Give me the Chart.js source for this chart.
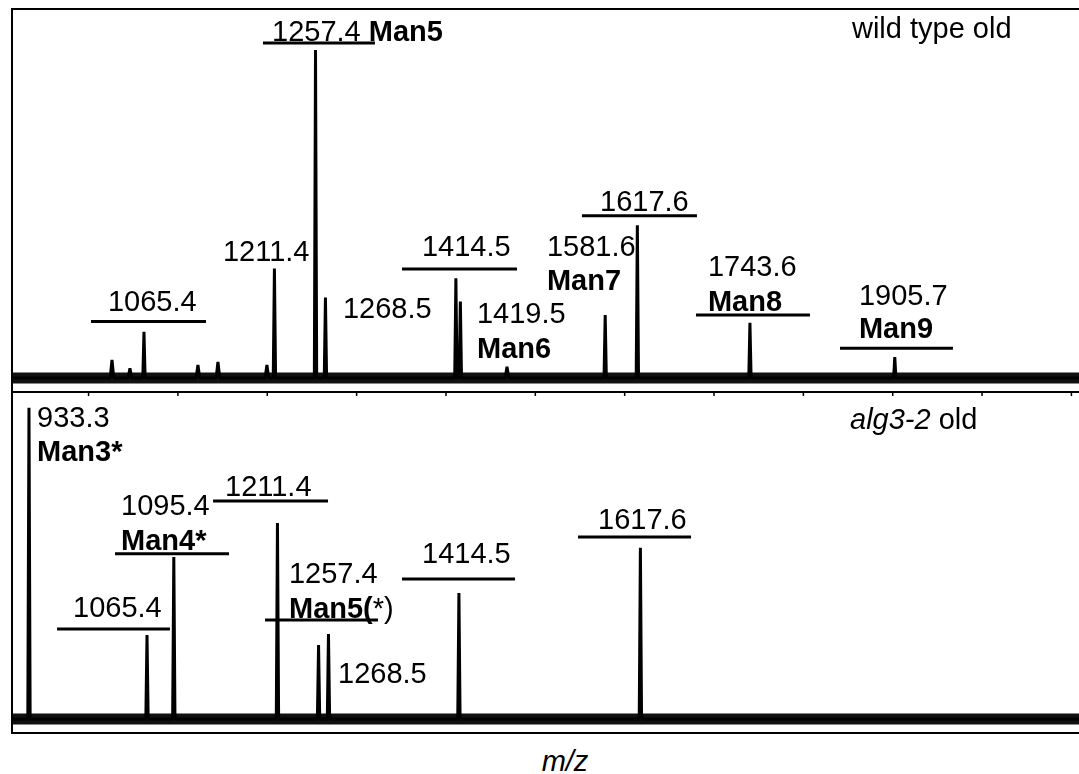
<!DOCTYPE html>
<html>
<head>
<meta charset="utf-8">
<title>MALDI spectra - wild type old / alg3-2 old</title>
<script src="https://cdn.jsdelivr.net/npm/chart.js@4.4.1/dist/chart.umd.min.js"></script>
<style>
  html, body { margin: 0; padding: 0; background: #fff; width: 1079px; height: 774px; overflow: hidden; }
  canvas { position: absolute; left: 0; }
  #wt { top: 0; }
  #alg { top: 380px; }
  #mz {
    position: absolute; left: 565px; top: 745px; transform: translateX(-50%);
    font: italic 29px "Liberation Sans", Arial, sans-serif; line-height: 32px; color: #000;
  }
</style>
</head>
<body>
<canvas id="wt" width="1100" height="400"></canvas>
<canvas id="alg" width="1100" height="360"></canvas>
<div id="mz">m/z</div>
<script>
  // wild type old: peak m/z and relative intensity (Man5 = 100)
  const wtMz = [1065.4, 1211.4, 1257.4, 1268.5, 1414.5, 1419.5, 1581.6, 1617.6, 1743.6, 1905.7];
  const wtInt = [14.1, 33.4, 100, 24.5, 30.4, 23.3, 19.2, 46.6, 16.8, 6.4];
  // small bumps sticking out of the baseline noise
  const wtBumpMz = [1029.6, 1049.7, 1125.8, 1148.2, 1203.0, 1471.7];
  const wtBumpInt = [5.5, 3.0, 4.0, 4.9, 4.0, 3.4];

  // alg3-2 old: peak m/z and relative intensity (Man3* = 100)
  const algMz = [933.3, 1065.4, 1095.4, 1211.4, 1257.4, 1268.5, 1414.5, 1617.6];
  const algInt = [100, 27.0, 52.1, 63.0, 23.8, 27.3, 40.5, 55.0];
  const algBumpMz = [];
  const algBumpInt = [];

  // m/z tick marks
  const tickMz = [1000, 1100, 1200, 1300, 1400, 1500, 1600, 1700, 1800, 1900, 2000, 2100];

  const FONT = '29px "Liberation Sans", Arial, sans-serif';

  // labels: anchor (left, middle) in data units, text parts with style
  const wtLabels = [
    { x: 1208.7, y: 105.2, parts: [['1257.4 ', ''], ['Man5', 'bold']] },
    { x: 1025.1, y: 22.9, parts: [['1065.4', '']] },
    { x: 1153.8, y: 38.1, parts: [['1211.4', '']] },
    { x: 1288.1, y: 20.7, parts: [['1268.5', '']] },
    { x: 1376.5, y: 39.6, parts: [['1414.5', '']] },
    { x: 1438.1, y: 19.2, parts: [['1419.5', '']] },
    { x: 1438.1, y: 8.5, parts: [['Man6', 'bold']] },
    { x: 1516.4, y: 39.6, parts: [['1581.6', '']] },
    { x: 1516.4, y: 29.3, parts: [['Man7', 'bold']] },
    { x: 1575.8, y: 53.4, parts: [['1617.6', '']] },
    { x: 1696.6, y: 33.5, parts: [['1743.6', '']] },
    { x: 1696.6, y: 22.9, parts: [['Man8', 'bold']] },
    { x: 1865.6, y: 24.7, parts: [['1905.7', '']] },
    { x: 1865.6, y: 14.6, parts: [['Man9', 'bold']] },
    { x: 1857.8, y: 106.1, parts: [['wild type old', '']] }
  ];
  // underline bars: [from m/z, to m/z, height]
  const wtBars = [
    [1198.6, 1323.9, 102.1],
    [1006.1, 1134.8, 17.2],
    [1354.2, 1482.9, 33.2],
    [1555.6, 1684.3, 49.5],
    [1683.2, 1810.8, 19.2],
    [1844.4, 1970.8, 9.1]
  ];

  const algLabels = [
    { x: 942.3, y: 96.5, parts: [['933.3', '']] },
    { x: 942.3, y: 85.5, parts: [['Man3*', 'bold']] },
    { x: 1036.3, y: 68.2, parts: [['1095.4', '']] },
    { x: 1036.3, y: 56.9, parts: [['Man4*', 'bold']] },
    { x: 1152.7, y: 74.3, parts: [['1211.4', '']] },
    { x: 982.6, y: 35.4, parts: [['1065.4', '']] },
    { x: 1224.3, y: 46.3, parts: [['1257.4', '']] },
    { x: 1224.3, y: 35.0, parts: [['Man5(', 'bold'], ['*)', '']] },
    { x: 1279.2, y: 14.1, parts: [['1268.5', '']] },
    { x: 1373.2, y: 52.7, parts: [['1414.5', '']] },
    { x: 1570.2, y: 63.7, parts: [['1617.6', '']] },
    { x: 1852.2, y: 95.8, parts: [['alg3-2', 'italic'], [' old', '']] }
  ];
  const algBars = [
    [1029.6, 1157.2, 53.1],
    [1139.3, 1268.0, 70.1],
    [964.7, 1091.1, 28.9],
    [1197.5, 1323.9, 31.8],
    [1350.8, 1477.3, 45.0],
    [1547.8, 1674.3, 58.5]
  ];

  // turn a peak list into a stick-like trace along the baseline
  function trace(mz, inten, bumpMz, bumpInt, lo, hi) {
    var pk = mz.map(function (m, i) { return [m, inten[i], 1.3]; })
      .concat(bumpMz.map(function (m, i) { return [m, bumpInt[i], 2.0]; }));
    pk.sort(function (a, b) { return a[0] - b[0]; });
    var pts = [{ x: lo, y: 0 }];
    pk.forEach(function (p) {
      pts.push({ x: p[0] - p[2], y: 0 }, { x: p[0], y: p[1] }, { x: p[0] + p[2], y: 0 });
    });
    pts.push({ x: hi, y: 0 });
    return pts;
  }

  // frame, ticks, underline bars and text labels
  const decor = {
    id: 'decor',
    afterDraw: function (chart, args, opts) {
      var ctx = chart.ctx, xs = chart.scales.x, ys = chart.scales.y, a = chart.chartArea;
      ctx.save();
      ctx.strokeStyle = '#000';
      ctx.fillStyle = '#000';
      ctx.lineWidth = 2;
      ctx.strokeRect(a.left, a.top, a.right - a.left, a.bottom - a.top);
      ctx.lineWidth = 1.5;
      (opts.ticks || []).forEach(function (t) {
        var px = xs.getPixelForValue(t);
        ctx.beginPath();
        ctx.moveTo(px, a.top);
        ctx.lineTo(px, a.top + 4);
        ctx.stroke();
      });
      ctx.lineWidth = 3;
      opts.bars.forEach(function (b) {
        var py = ys.getPixelForValue(b[2]);
        ctx.beginPath();
        ctx.moveTo(xs.getPixelForValue(b[0]), py);
        ctx.lineTo(xs.getPixelForValue(b[1]), py);
        ctx.stroke();
      });
      ctx.textBaseline = 'middle';
      ctx.textAlign = 'left';
      opts.labels.forEach(function (l) {
        var px = xs.getPixelForValue(l.x), py = ys.getPixelForValue(l.y);
        l.parts.forEach(function (p) {
          ctx.font = (p[1] ? p[1] + ' ' : '') + FONT;
          ctx.fillText(p[0], px, py);
          px += ctx.measureText(p[0]).width;
        });
      });
      ctx.restore();
    }
  };

  function makeChart(id, pts, xMin, xMax, yMin, yMax, pad, labels, bars, ticks) {
    return new Chart(document.getElementById(id), {
      type: 'line',
      data: {
        datasets: [{
          data: pts,
          borderColor: '#000',
          borderWidth: 3,
          borderJoinStyle: 'bevel',
          pointRadius: 0,
          tension: 0
        }, {
          // thick noisy baseline band
          data: [{ x: xMin, y: 0 }, { x: xMax, y: 0 }],
          borderColor: '#111',
          borderWidth: 11,
          pointRadius: 0
        }]
      },
      options: {
        responsive: false,
        animation: false,
        devicePixelRatio: 1,
        layout: { padding: pad },
        scales: {
          x: { type: 'linear', min: xMin, max: xMax, display: false },
          y: { min: yMin, max: yMax, display: false }
        },
        plugins: {
          legend: { display: false },
          tooltip: { enabled: false },
          decor: { labels: labels, bars: bars, ticks: ticks }
        }
      },
      plugins: [decor]
    });
  }

  makeChart('wt', trace(wtMz, wtInt, wtBumpMz, wtBumpInt, 917.7, 2129.8),
    917.7, 2129.8, -4.27, 112.5,
    { left: 12, top: 9, right: 5, bottom: 8 }, wtLabels, wtBars, null);

  makeChart('alg', trace(algMz, algInt, algBumpMz, algBumpInt, 914.3, 2126.4),
    914.3, 2126.4, -4.5, 105.1,
    { left: 12, top: 12, right: 5, bottom: 7 }, algLabels, algBars, tickMz);
</script>
</body>
</html>
